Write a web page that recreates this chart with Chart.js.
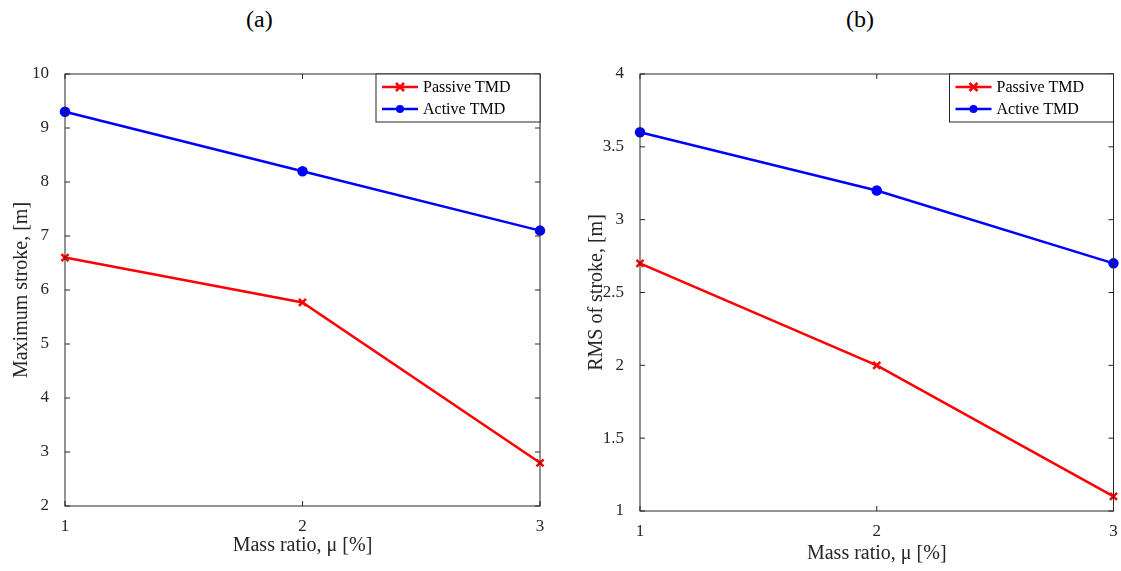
<!DOCTYPE html>
<html><head><meta charset="utf-8">
<script src="https://cdn.jsdelivr.net/npm/chart.js@4"></script>
<style>
body{margin:0;background:#fff;width:1121px;height:571px;position:relative;overflow:hidden;font-family:"Liberation Serif",serif}
canvas{position:absolute;top:0}
.t{position:absolute;top:6px;font-size:24px}
</style></head><body>
<div class="t" style="left:246px">(a)</div>
<div class="t" style="left:846px">(b)</div>
<div style="position:absolute;left:0;top:0;width:560px;height:571px"><canvas id="c1"></canvas></div>
<div style="position:absolute;left:575px;top:0;width:546px;height:571px"><canvas id="c2"></canvas></div>
<script>
const massRatio=[1,2,3];
const maxPassive=[6.6,5.77,2.8];
const maxActive=[9.3,8.2,7.1];
const rmsPassive=[2.7,2.0,1.1];
const rmsActive=[3.6,3.2,2.7];
const seriesNames=['Passive TMD','Active TMD'];

const frame={id:'frame',afterDraw(ch){
  const c=ch.ctx,a=ch.chartArea,x=ch.scales.x,y=ch.scales.y;
  c.save();c.strokeStyle='#262626';c.lineWidth=1;
  c.strokeRect(a.left,a.top,a.right-a.left,a.bottom-a.top);
  c.beginPath();
  x.ticks.forEach(t=>{const p=x.getPixelForValue(t.value);c.moveTo(p,a.bottom);c.lineTo(p,a.bottom-5);c.moveTo(p,a.top);c.lineTo(p,a.top+5);});
  y.ticks.forEach(t=>{const p=y.getPixelForValue(t.value);c.moveTo(a.left,p);c.lineTo(a.left+5,p);c.moveTo(a.right,p);c.lineTo(a.right-5,p);});
  c.stroke();
  const w=164,h=48,lx=a.right-w,ly=a.top;
  c.fillStyle='#fff';c.fillRect(lx,ly,w,h);c.strokeRect(lx,ly,w,h);
  const cols=['#ff0000','#0000ff'];
  c.font='16px "Liberation Serif"';c.textBaseline='middle';
  for(let i=0;i<2;i++){const yy=ly+13+i*22;c.strokeStyle=cols[i];c.lineWidth=2.5;
    c.beginPath();c.moveTo(lx+6,yy);c.lineTo(lx+42,yy);c.stroke();
    c.fillStyle=cols[i];
    if(i==0){c.beginPath();c.moveTo(lx+20,yy-4);c.lineTo(lx+28,yy+4);c.moveTo(lx+28,yy-4);c.lineTo(lx+20,yy+4);c.stroke();}
    else{c.beginPath();c.arc(lx+24,yy,4,0,7);c.fill();}
    c.fillStyle='#000';c.fillText(seriesNames[i],lx+47,yy+1);}
  c.restore();}};

function make(id,p,a,ymin,ymax,step,ytitle,yw,xh,pr,pb){
  new Chart(document.getElementById(id),{type:'line',
   data:{datasets:[
    {data:massRatio.map((v,i)=>({x:v,y:p[i]})),borderColor:'#ff0000',backgroundColor:'#ff0000',borderWidth:2.5,pointStyle:'crossRot',pointRadius:5,pointBorderWidth:2.5,clip:false},
    {data:massRatio.map((v,i)=>({x:v,y:a[i]})),borderColor:'#0000ff',backgroundColor:'#0000ff',borderWidth:2.5,pointStyle:'circle',pointRadius:4,clip:false}]},
   options:{responsive:true,maintainAspectRatio:false,animation:false,
    layout:{padding:{top:74,right:pr,left:10,bottom:pb}},
    plugins:{legend:{display:false},tooltip:{enabled:false}},
    scales:{
     x:{type:'linear',min:1,max:3,grid:{display:false},border:{display:false},
        ticks:{stepSize:1,color:'#262626',font:{family:'Liberation Serif',size:17},padding:2},
        title:{display:true,text:'Mass ratio, μ [%]',color:'#262626',font:{family:'Liberation Serif',size:20},padding:0},
        afterFit(s){s.height=xh;}},
     y:{min:ymin,max:ymax,grid:{display:false},border:{display:false},
        ticks:{stepSize:step,color:'#262626',font:{family:'Liberation Serif',size:17},padding:8,callback:v=>String(v)},
        title:{display:true,text:ytitle,color:'#262626',font:{family:'Liberation Serif',size:20},padding:0},
        afterFit(s){s.width=yw;}}}},
   plugins:[frame]});
}
make('c1',maxPassive,maxActive,2,10,1,'Maximum stroke, [m]',55,52,20,13);
make('c2',rmsPassive,rmsActive,1,4,0.5,'RMS of stroke, [m]',55,55,5,5);
</script></body></html>
